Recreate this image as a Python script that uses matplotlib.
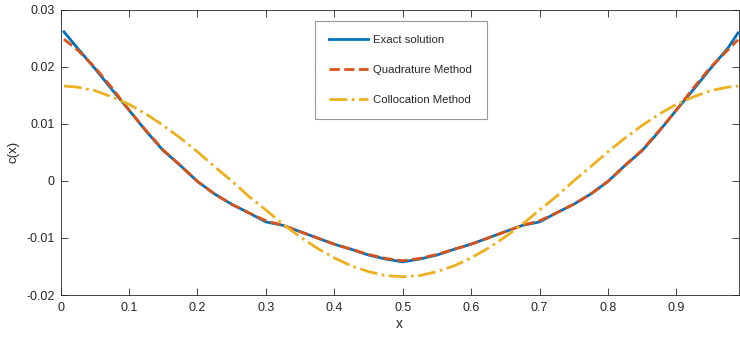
import numpy as np
import matplotlib
matplotlib.use('Agg')
import matplotlib.pyplot as plt

plt.rcParams['font.family'] = ['Liberation Sans', 'DejaVu Sans']
plt.rcParams['axes.unicode_minus'] = False

#--values
x = [0.005, 0.025, 0.05, 0.075, 0.1, 0.125, 0.15, 0.175, 0.2, 0.225,
     0.25, 0.275, 0.3, 0.325, 0.35, 0.375, 0.4, 0.425, 0.45, 0.475,
     0.5, 0.525, 0.55, 0.575, 0.6, 0.625, 0.65, 0.675, 0.7, 0.725,
     0.75, 0.775, 0.8, 0.825, 0.85, 0.875, 0.9, 0.925, 0.95, 0.975, 0.99]

exact = [0.0261, 0.0232, 0.0197, 0.0160, 0.0124, 0.0087, 0.0053, 0.0027, -0.0001, -0.0023,
         -0.0041, -0.0056, -0.0072, -0.0078, -0.0089, -0.0100, -0.0111, -0.0120, -0.0130, -0.0137,
         -0.0142, -0.0137, -0.0130, -0.0120, -0.0111, -0.0100, -0.0089, -0.0078, -0.0072, -0.0056,
         -0.0041, -0.0023, -0.0001, 0.0027, 0.0053, 0.0087, 0.0124, 0.0160, 0.0197, 0.0232, 0.0259]

quad = [0.0248, 0.0229, 0.0199, 0.0163, 0.0124, 0.0088, 0.0054, 0.0027, -0.0001, -0.0023,
        -0.0041, -0.0056, -0.0070, -0.0078, -0.0089, -0.0100, -0.0111, -0.0120, -0.0129, -0.0136,
        -0.0140, -0.0136, -0.0129, -0.0120, -0.0111, -0.0100, -0.0089, -0.0078, -0.0070, -0.0056,
        -0.0041, -0.0023, -0.0001, 0.0027, 0.0054, 0.0088, 0.0124, 0.0163, 0.0199, 0.0229, 0.0247]

colloc = [0.0166, 0.0164, 0.0158, 0.0147, 0.0134, 0.0117, 0.0097, 0.0075, 0.0051, 0.0025,
          0.0000, -0.0027, -0.0051, -0.0076, -0.0098, -0.0118, -0.0135, -0.0149, -0.0159, -0.0166,
          -0.0168, -0.0166, -0.0159, -0.0149, -0.0135, -0.0118, -0.0098, -0.0076, -0.0051, -0.0027,
          0.0000, 0.0025, 0.0051, 0.0075, 0.0097, 0.0117, 0.0134, 0.0147, 0.0158, 0.0164, 0.0166]

xticks = [0, 0.1, 0.2, 0.3, 0.4, 0.5, 0.6, 0.7, 0.8, 0.9]
xticklabels = ['0', '0.1', '0.2', '0.3', '0.4', '0.5', '0.6', '0.7', '0.8', '0.9']
yticks = [-0.02, -0.01, 0, 0.01, 0.02, 0.03]
yticklabels = ['-0.02', '-0.01', '0', '0.01', '0.02', '0.03']

fig = plt.figure(figsize=(7.4, 3.37), dpi=100)
ax = fig.add_axes([0.0818, 0.1246, 0.9168, 0.8472])

ax.plot(x, exact, '-', color='#0072BD', lw=2.0, label='Exact solution')
ax.plot(x, quad, '--', color='#D95319', lw=2.0, label='Quadrature Method')
ax.plot(x, colloc, '-.', color='#EDB120', lw=2.0, label='Collocation Method')

ax.set_xlim(0, 0.9914)
ax.set_ylim(-0.02, 0.03)
ax.set_xticks(xticks)
ax.set_xticklabels(xticklabels)
ax.set_yticks(yticks)
ax.set_yticklabels(yticklabels)

tc = '#262626'
ax.tick_params(axis='both', which='both', direction='in', top=True, right=True,
               length=5, width=0.6, labelsize=9, colors=tc)
ax.tick_params(axis='x', pad=5)
ax.tick_params(axis='y', pad=4)
for s in ax.spines.values():
    s.set_color(tc)
    s.set_linewidth(0.6)

ax.set_xlabel('x', fontsize=10, color=tc, labelpad=2)
ax.set_ylabel('c(x)', fontsize=9.5, color=tc, labelpad=5)

leg = ax.legend(loc='upper left', bbox_to_anchor=(0.3745, 0.961), fontsize=8.2,
                frameon=True, fancybox=False, handlelength=3.4, handletextpad=0.45,
                labelspacing=1.72, borderpad=1.3, borderaxespad=0)
leg.get_frame().set_edgecolor('#7f7f7f')
leg.get_frame().set_linewidth(0.8)
for t in leg.get_texts():
    t.set_color(tc)

fig.savefig('out.png', dpi=100)
